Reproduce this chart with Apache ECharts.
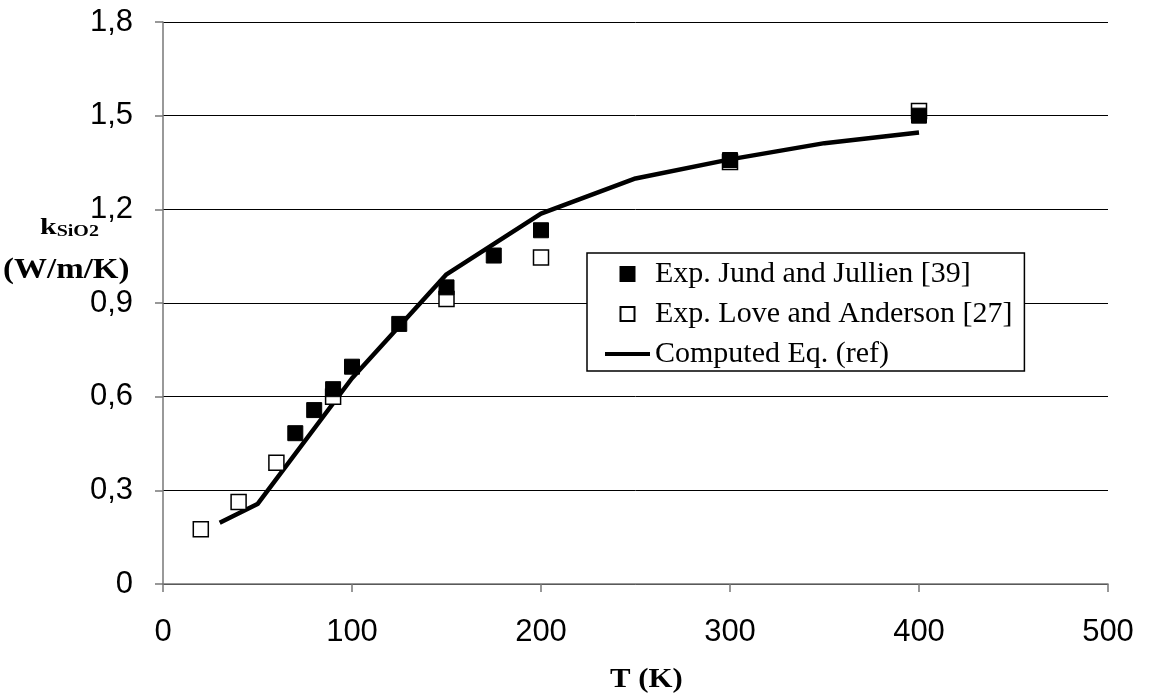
<!DOCTYPE html>
<html lang="en">
<head>
    <meta charset="UTF-8">
    <title>k SiO2</title>
    <script src="https://cdn.jsdelivr.net/npm/echarts@6/dist/echarts.min.js"></script>
</head>
<body style="margin: 0; background: #fff;">
    <div id="graph" style="width: 1149px; height: 697px;"></div>

    <script>
        var jundT = [70, 80, 90, 100, 125, 150, 175, 200, 300, 400];
        var jundK = [0.483, 0.557, 0.624, 0.696, 0.833, 0.950, 1.052, 1.133, 1.358, 1.500];

        var loveT = [20, 40, 60, 90, 150, 200, 300, 400];
        var loveK = [0.175, 0.263, 0.388, 0.600, 0.913, 1.046, 1.352, 1.515];

        // computed curve
        var calcT = [30, 50, 100, 150, 200, 250, 300, 350, 400];
        var calcK = [0.196, 0.256, 0.659, 0.992, 1.186, 1.299, 1.360, 1.412, 1.446];

        var xTicks = [0, 100, 200, 300, 400, 500];

        function pairs(a, b) {
            var out = [];
            for (var i = 0; i < a.length; i++) out.push([a[i], b[i]]);
            return out;
        }

        var serif = 'Liberation Serif';
        var sans = 'Liberation Sans';
        var squareIcon = 'path://M0,0h14v14h-14z';

        var myChart = echarts.init(document.getElementById('graph'));
        var option = {
            animation: false,
            backgroundColor: '#fff',
            grid: {left: 163, right: 41, top: 22, bottom: 113},
            legend: {
                orient: 'vertical',
                left: 587,
                top: 253,
                padding: [6, 12, 2, 16],
                itemGap: 10,
                itemWidth: 45,
                itemHeight: 14,
                itemTextGap: 7,
                borderColor: '#000',
                borderWidth: 1.5,
                backgroundColor: '#fff',
                textStyle: {fontFamily: serif, fontSize: 30, color: '#000'},
                data: [
                    {name: 'Exp. Jund and Jullien [39]', icon: squareIcon},
                    {name: 'Exp. Love and Anderson [27]', icon: squareIcon},
                    {name: 'Computed Eq. (ref)', itemStyle: {opacity: 0}, lineStyle: {width: 4, color: '#000'}}
                ]
            },
            xAxis: {
                type: 'value',
                min: 0,
                max: 500,
                interval: 100,
                axisLine: {lineStyle: {color: '#777', width: 1.5}},
                axisTick: {length: 8, lineStyle: {color: '#777', width: 1.5}},
                axisLabel: {
                    margin: 33,
                    fontFamily: sans,
                    fontSize: 31,
                    color: '#000',
                    customValues: xTicks
                },
                splitLine: {show: false}
            },
            yAxis: {
                type: 'value',
                min: 0,
                max: 1.8,
                interval: 0.3,
                axisLine: {show: true, lineStyle: {color: '#777', width: 1.5}},
                axisTick: {show: true, length: 8, lineStyle: {color: '#777', width: 1.5}},
                axisLabel: {
                    margin: 30,
                    fontFamily: sans,
                    fontSize: 31,
                    color: '#000',
                    formatter: function (v) {
                        return v === 0 ? '0' : v.toFixed(1).replace('.', ',');
                    }
                },
                splitLine: {lineStyle: {color: '#000', width: 1}}
            },
            graphic: [{
                // y axis title, first line
                type: 'text',
                x: 40,
                y: 240,
                scaleX: 1.25,
                style: {
                    text: '{k|k}{s|SiO2}',
                    verticalAlign: 'bottom',
                    rich: {
                        k: {fontFamily: serif, fontWeight: 'bold', fontSize: 24, fill: '#000', verticalAlign: 'bottom'},
                        s: {fontFamily: serif, fontWeight: 'bold', fontSize: 16, fill: '#000', verticalAlign: 'bottom'}
                    }
                }
            }, {
                type: 'text',
                x: 3,
                y: 270,
                scaleX: 1.1,
                style: {
                    text: '(W/m/K)',
                    verticalAlign: 'middle',
                    fontFamily: serif,
                    fontWeight: 'bold',
                    fontSize: 30,
                    fill: '#000'
                }
            }, {
                // x axis title
                type: 'text',
                x: 610,
                y: 680,
                scaleX: 1.1,
                style: {
                    text: 'T (K)',
                    verticalAlign: 'middle',
                    fontFamily: serif,
                    fontWeight: 'bold',
                    fontSize: 28,
                    fill: '#000'
                }
            }],
            series: [{
                name: 'Computed Eq. (ref)',
                type: 'line',
                symbol: 'none',
                data: pairs(calcT, calcK),
                lineStyle: {color: '#000', width: 4.5},
                itemStyle: {color: '#000'},
                z: 2
            }, {
                name: 'Exp. Love and Anderson [27]',
                type: 'scatter',
                symbol: 'rect',
                symbolSize: 15,
                data: pairs(loveT, loveK),
                itemStyle: {color: '#fff', borderColor: '#000', borderWidth: 1.5, opacity: 1},
                z: 3
            }, {
                name: 'Exp. Jund and Jullien [39]',
                type: 'scatter',
                symbol: 'rect',
                symbolSize: 15,
                data: pairs(jundT, jundK),
                itemStyle: {color: '#000', borderColor: '#000', borderWidth: 1, opacity: 1},
                z: 4
            }]
        };
        myChart.setOption(option);
    </script>
</body>
</html>
